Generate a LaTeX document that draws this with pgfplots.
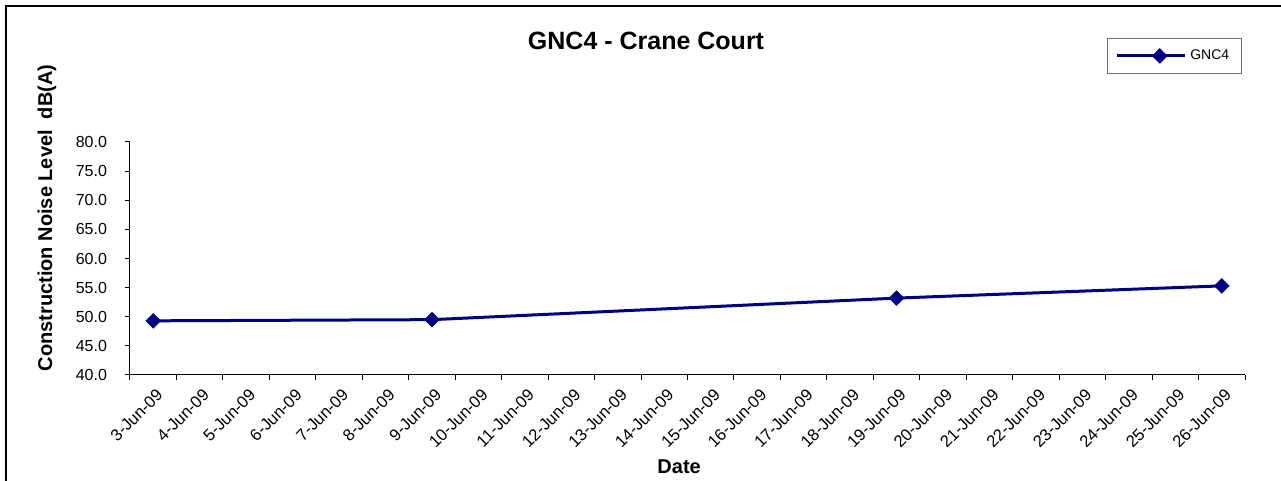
\documentclass[border=0pt]{standalone}
\usepackage{pgfplots}
\pgfplotsset{compat=1.18}
\usepackage{fontspec}
\setmainfont{Liberation Sans}
\definecolor{navyline}{RGB}{0,0,128}
\definecolor{legframe}{RGB}{110,110,110}
\begin{document}
\begin{tikzpicture}
\useasboundingbox (0,0) rectangle (640.5pt,240.5pt);
\draw[line width=1.3pt] (3pt,0) -- (3pt,237.5pt) -- (640.5pt,237.5pt);
\begin{axis}[
  at={(65pt,53pt)}, anchor=south west,
  scale only axis, width=557.5pt, height=116.5pt,
  xmin=-0.5, xmax=23.5, ymin=40, ymax=80,
  axis x line*=bottom, axis y line*=left,
  axis line style={line width=0.5pt, -},
  xtick={0,...,23},
  xticklabels={3-Jun-09,4-Jun-09,5-Jun-09,6-Jun-09,7-Jun-09,8-Jun-09,9-Jun-09,10-Jun-09,11-Jun-09,12-Jun-09,13-Jun-09,14-Jun-09,15-Jun-09,16-Jun-09,17-Jun-09,18-Jun-09,19-Jun-09,20-Jun-09,21-Jun-09,22-Jun-09,23-Jun-09,24-Jun-09,25-Jun-09,26-Jun-09},
  major x tick style={draw=none},
  minor xtick={-0.5,0.5,...,23.5},
  minor tick length=2.5pt,
  minor x tick style={line width=0.5pt, black},
  ytick={40,45,...,80},
  major tick length=2.5pt,
  tick align=outside,
  y tick style={line width=0.5pt, black},
  /pgf/number format/assume math mode=true,
  yticklabel={\pgfmathprintnumber[fixed,fixed zerofill,precision=1]{\tick}},
  yticklabel style={font=\fontsize{8}{9.5}\selectfont, anchor=east, xshift=-5.5pt},
  xticklabel style={font=\fontsize{8.3}{10}\selectfont, rotate=45, anchor=east, xshift=1.5pt, yshift=-6.5pt},
  title={GNC4 - Crane Court},
  title style={font=\fontsize{12.5}{15}\selectfont\bfseries, at={(0.4628,1.382)}, anchor=center},
  ylabel={Construction Noise Level\ \ dB(A)},
  ylabel style={font=\fontsize{10}{12}\selectfont\bfseries, at={(-0.0745,0.674)}, anchor=center, rotate=0},
  xlabel={Date},
  xlabel style={font=\fontsize{10}{12}\selectfont\bfseries, at={(0.4925,-0.395)}, anchor=center},
  legend style={at={(0.997,1.446)}, anchor=north east, draw=legframe, line width=0.5pt,
    font=\fontsize{7}{8.5}\selectfont, inner xsep=4pt, inner ysep=3.5pt,
    legend cell align=left},
  legend image code/.code={\path (-9pt,0pt) -- (25pt,0pt);
    \draw[#1, line width=1.5pt] (0pt,0pt) -- (25pt,0pt);
    \draw[#1, mark repeat=2, mark phase=2] plot coordinates {(0pt,0pt) (12.5pt,0pt) (25pt,0pt)};},
  clip=false,
]
\addplot[color=navyline, line width=1.5pt, mark=square*, mark size=2.6pt,
  mark options={solid, rotate=45, fill=navyline, draw=navyline, line width=0.3pt}]
  coordinates {(0,49.3) (6,49.5) (16,53.2) (23,55.3)};
\addlegendentry{GNC4}
\end{axis}
\end{tikzpicture}
\end{document}
